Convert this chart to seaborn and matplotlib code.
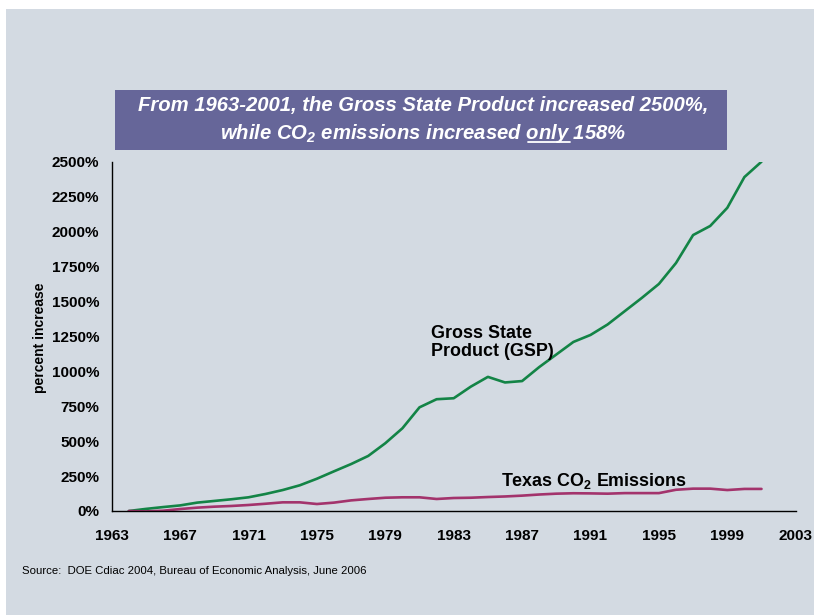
import matplotlib
matplotlib.use('Agg')
import matplotlib.pyplot as plt
from matplotlib.patches import Rectangle
from matplotlib.lines import Line2D
import seaborn as sns
import pandas as pd

sns.set_theme(style='white')
plt.rcParams['font.family'] = ['Liberation Sans', 'DejaVu Sans']
plt.rcParams['text.color'] = 'black'
plt.rcParams['xtick.color'] = 'black'
plt.rcParams['ytick.color'] = 'black'
plt.rcParams['mathtext.fontset'] = 'custom'
plt.rcParams['mathtext.rm'] = 'Liberation Sans:bold:italic'
plt.rcParams['mathtext.it'] = 'Liberation Sans:bold:italic'
plt.rcParams['mathtext.bf'] = 'Liberation Sans:bold'

# data (percent increase since 1963)
years = list(range(1964, 2002))
gsp = [0, 15, 28, 40, 60, 72, 84, 98, 122, 150, 184, 231, 284, 336, 394, 485,
       592, 742, 800, 807, 890, 960, 920, 930, 1030, 1120, 1210, 1260, 1335,
       1430, 1525, 1625, 1775, 1975, 2040, 2170, 2390, 2500]
co2 = [0, -3, 2, 14, 24, 31, 36, 43, 52, 62, 62, 50, 60, 76, 86, 95, 98, 98,
       86, 93, 95, 100, 104, 110, 118, 124, 127, 126, 124, 128, 128, 128, 152,
       160, 160, 150, 158, 158]
x_ticks = list(range(1963, 2004, 4))
y_ticks = list(range(0, 2501, 250))

df = pd.DataFrame({'year': years, 'GSP': gsp, 'CO2': co2})

bg = '#D3DAE2'
W, H = 814, 615
fig = plt.figure(figsize=(W / 100, H / 100), dpi=100)
fig.patch.set_facecolor('white')
fig.patches.append(Rectangle((6 / W, 0), 1, 1 - 9 / H, transform=fig.transFigure,
                             facecolor=bg, edgecolor='none', zorder=-10))

ax = fig.add_axes([111.7 / W, 1 - 511 / H, (795.7 - 111.7) / W, (511 - 161.7) / H])
ax.patch.set_alpha(0)

sns.lineplot(data=df, x='year', y='GSP', ax=ax, color='#138446', linewidth=1.9)
sns.lineplot(data=df, x='year', y='CO2', ax=ax, color='#A3336C', linewidth=1.9)

ax.set_xlim(1963, 2003)
ax.set_ylim(0, 2500)
ax.set_xticks(x_ticks)
ax.set_yticks(y_ticks)
ax.set_xticklabels([str(y) for y in x_ticks], fontsize=11, fontweight='bold')
ax.set_yticklabels(['{}%'.format(v) for v in y_ticks], fontsize=11, fontweight='bold')
ax.tick_params(axis='x', direction='out', length=4, width=1, color='black', pad=9)
ax.tick_params(axis='y', direction='out', length=5, width=1, color='black', pad=4)
for s in ['top', 'right']:
    ax.spines[s].set_visible(False)
for s in ['left', 'bottom']:
    ax.spines[s].set_color('black')
    ax.spines[s].set_linewidth(1)
ax.set_xlabel('')
ax.set_ylabel('')
fig.text(40 / W, 1 - 338 / H, 'percent increase', rotation=90, ha='center', va='center',
         fontsize=10, fontweight='bold')

ax.text(1981.7, 1330, 'Gross State\nProduct (GSP)', fontsize=12.9, fontweight='bold',
        ha='left', va='top', linespacing=1.1)
ax.text(1985.75, 181, r'Texas CO$_{\mathbf{2}}$ Emissions', fontsize=12.9, fontweight='bold',
        ha='left', va='baseline')

# title box
fig.patches.append(Rectangle((115 / W, 1 - 150 / H), (727 - 115) / W, (150 - 90) / H,
                             transform=fig.transFigure, facecolor='#666699',
                             edgecolor='none', zorder=1))
cx = 423 / W
fig.text(cx, 1 - 106 / H, 'From 1963-2001, the Gross State Product increased 2500%,',
         ha='center', va='center', color='white', fontsize=14.6, fontweight='bold',
         style='italic', zorder=2)
line2 = r'while CO$_2$ emissions increased only 158%'
y2 = 1 - 139 / H
t2 = fig.text(cx, y2, line2, ha='center', va='baseline', color='white', fontsize=14.6,
              fontweight='bold', style='italic', zorder=2)

# underline "only"
fig.canvas.draw()
r = fig.canvas.get_renderer()
x0 = t2.get_window_extent(r).x0
ta = fig.text(x0 / W, y2, r'while CO$_2$ emissions increased only', ha='left', va='baseline',
              fontsize=14.6, fontweight='bold', style='italic')
tb = fig.text(x0 / W, y2, 'only', ha='left', va='baseline', fontsize=14.6,
              fontweight='bold', style='italic')
xe = ta.get_window_extent(r).x1
wo = tb.get_window_extent(r).width
ta.remove()
tb.remove()
uy = y2 - 3 / H
fig.lines.append(Line2D([(xe - wo) / W, xe / W], [uy, uy], transform=fig.transFigure,
                        color='white', linewidth=1.3, zorder=2))

fig.text(22 / W, 1 - 571 / H, 'Source:  DOE Cdiac 2004, Bureau of Economic Analysis, June 2006',
         ha='left', va='center', fontsize=8.2, color='black')

fig.savefig('out.png', dpi=100)
